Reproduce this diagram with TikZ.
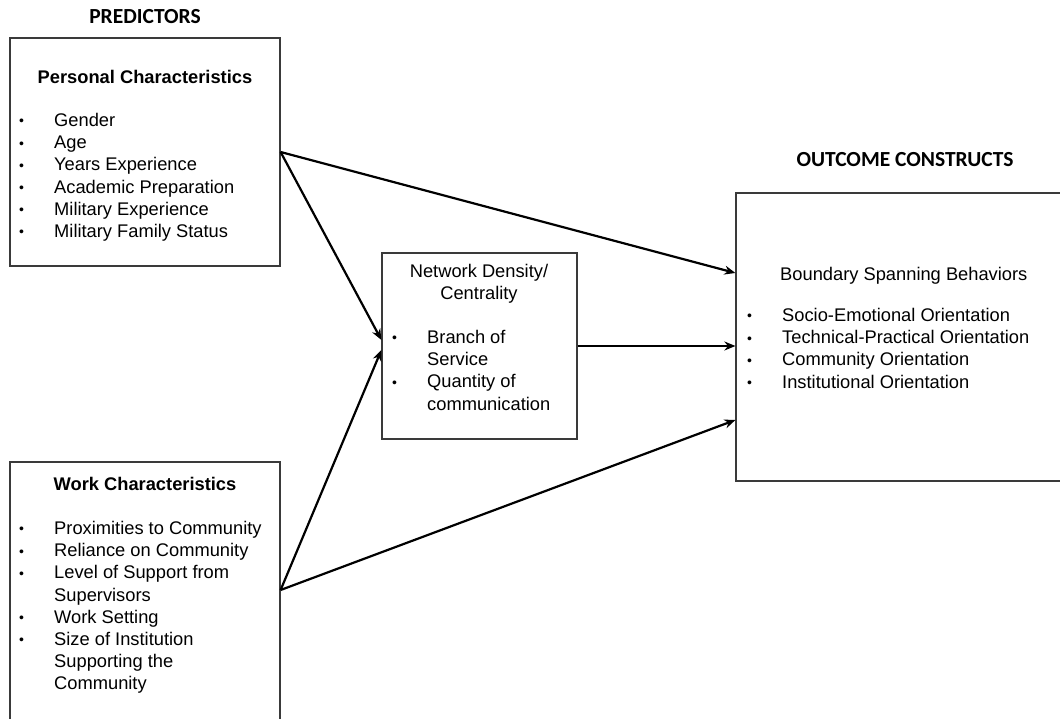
\documentclass[tikz,border=0pt]{standalone}
\usepackage{fontspec}
\setmainfont{Liberation Sans}
\newfontfamily\headFont{Carlito}
\usepackage{tikz}
\usetikzlibrary{arrows.meta}
\newcommand{\itemBullet}[0]{\makebox[35pt][l]{\raisebox{0.5pt}{\fontsize{14}{14}\selectfont\textbullet}}}
\newcommand{\itemSkip}[0]{\makebox[35pt]{}}
\definecolor{boxgray}{HTML}{3A3A3A}

\begin{document}
\begin{tikzpicture}[x=1pt, y=-1pt]
  \tikzset{
    every node/.style={inner sep=0pt, font=\fontsize{18.3}{22.2}\selectfont},
    box/.style={draw=boxgray, line width=1.2pt},
    head/.style={font=\fontsize{18.3}{22.2}\selectfont\bfseries},
    title/.style={font=\headFont\fontsize{21.5}{24}\selectfont\bfseries},
    items/.style={align=left, anchor=north west},
    link/.style={line width=2.2pt, -{Stealth[length=11pt,width=9pt]}}
  }
  \clip (0,0) rectangle (1060,719);
  % boxes
  \node[box, minimum width=270pt, minimum height=228pt] (pers) at (145,152) {};
  \node[box, minimum width=270pt, minimum height=262pt] (work) at (145,593) {};
  \node[box, minimum width=195pt, minimum height=186pt] (net) at (479.5,346) {};
  \node[box, minimum width=364pt, minimum height=288pt] (outc) at (918,337) {};
  % titles
  \node[title] (pred-title) at (145,16.5) {PREDICTORS};
  \node[title] (outc-title) at (905,160) {OUTCOME CONSTRUCTS};
  % personal
  \node[head] (pers-head) at (145,77) {Personal Characteristics};
  \node[items] (pers-list) at (19,113) {\itemBullet Gender\\
    \itemBullet Age\\
    \itemBullet Years Experience\\
    \itemBullet Academic Preparation\\
    \itemBullet Military Experience\\
    \itemBullet Military Family Status};
  % work
  \node[head] (work-head) at (145,484) {Work Characteristics};
  \node[items] (work-list) at (19,521) {\itemBullet Proximities to Community\\
    \itemBullet Reliance on Community\\
    \itemBullet Level of Support from\\
    \itemSkip Supervisors\\
    \itemBullet Work Setting\\
    \itemBullet Size of Institution\\
    \itemSkip Supporting the\\
    \itemSkip Community};
  % network
  \node[align=center, anchor=north] (net-head) at (479,264) {Network Density/\\Centrality};
  \node[items] (net-list) at (392,330) {\itemBullet Branch of\\
    \itemSkip Service\\
    \itemBullet Quantity of\\
    \itemSkip communication};
  % outcome
  \node[anchor=north west] (outc-head) at (780,267) {Boundary Spanning Behaviors};
  \node[items] (outc-list) at (747,308) {\itemBullet Socio-Emotional Orientation\\
    \itemBullet Technical-Practical Orientation\\
    \itemBullet Community Orientation\\
    \itemBullet Institutional Orientation};
  % paths
  \draw[link] (pers.east) -- ([yshift=64pt]outc.west);
  \draw[link] (pers.east) -- ([yshift=6pt]net.west);
  \draw[link] ([yshift=3pt]work.east) -- ([yshift=-4pt]net.west);
  \draw[link] ([yshift=3pt]work.east) -- ([yshift=-83pt]outc.west);
  \draw[link] (net.east) -- (net.east -| outc.west);
\end{tikzpicture}
\end{document}
